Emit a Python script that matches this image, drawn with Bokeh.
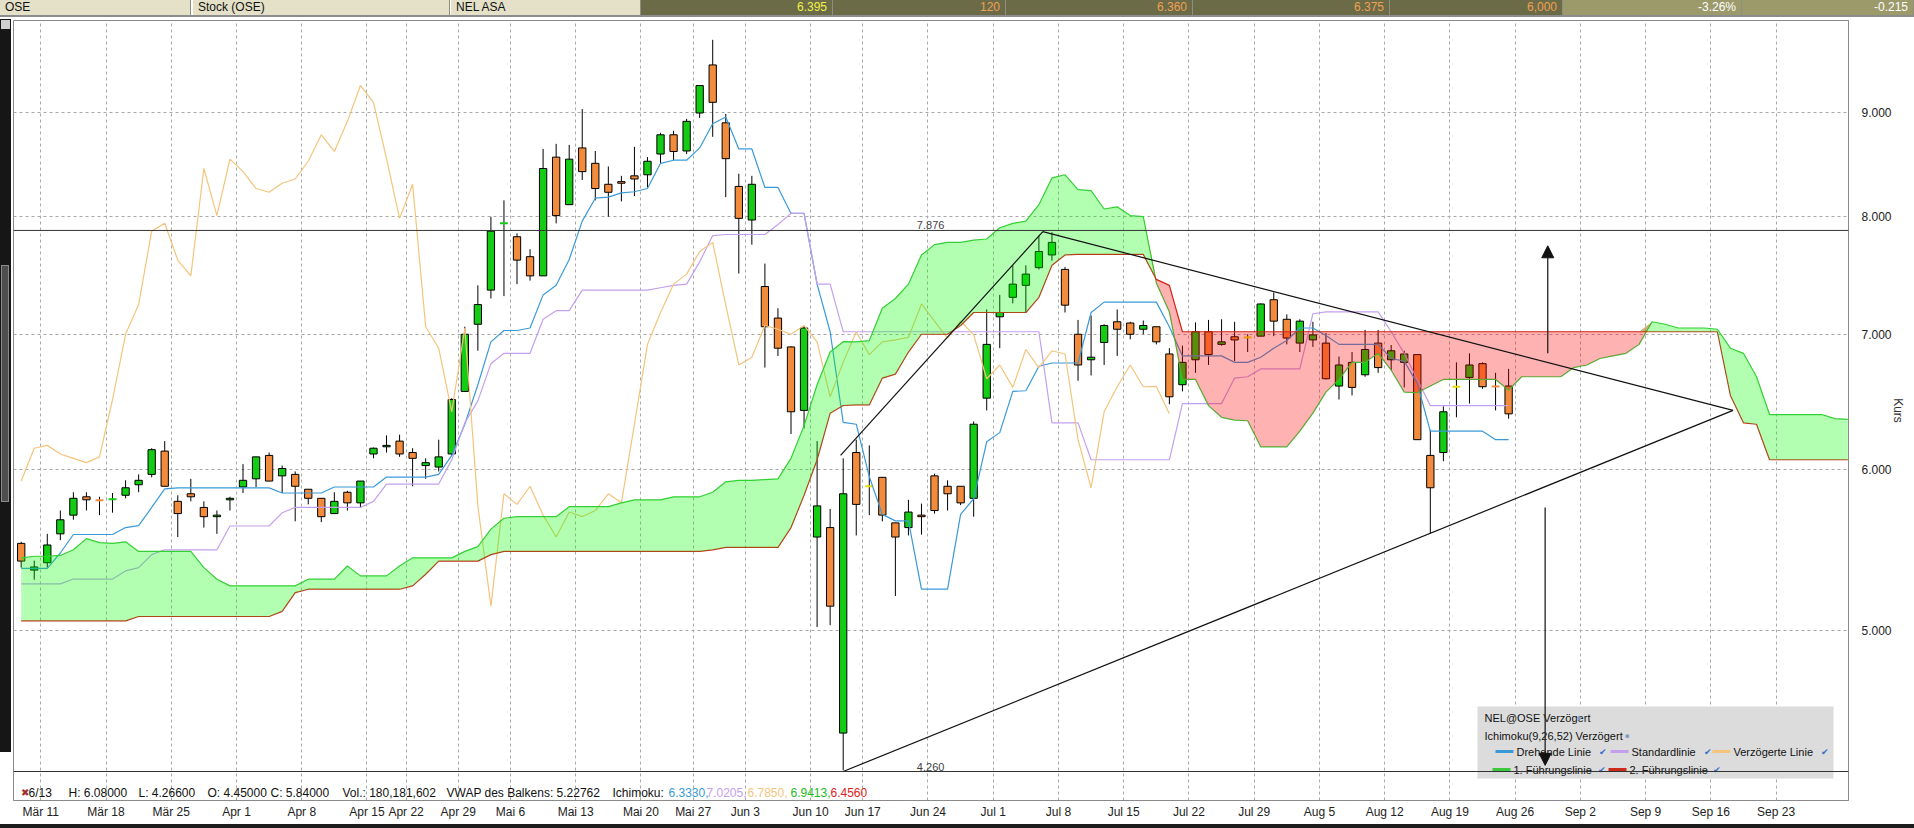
from bokeh.plotting import figure
from bokeh.layouts import column
from bokeh.models import (FixedTicker, Range1d, Label, Span, BoxAnnotation, Arrow,
                          NormalHead, Div, NumeralTickFormatter)
from bokeh.embed import file_html
from bokeh.resources import INLINE

# ---------------- data ----------------
opens = [5.52, 5.355, 5.40, 5.58, 5.70, 5.82, 5.80, 5.80, 5.83, 5.90,
         5.97, 6.13, 5.79, 5.84, 5.75, 5.69, 5.80, 5.885, 5.94, 6.10,
         5.96, 5.97, 5.87, 5.81, 5.71, 5.85, 5.78, 6.11, 6.16, 6.20,
         6.12, 6.03, 6.02, 6.11, 6.56, 7.08, 7.36, 7.935, 7.82, 7.645,
         7.48, 8.56, 8.11, 8.65, 8.50, 8.30, 8.325, 8.38, 8.39, 8.59,
         8.78, 8.62, 9.00, 9.505, 8.90, 8.28, 7.97, 7.39, 7.13, 6.90,
         6.42, 5.56, 5.62, 4.45, 6.12, 5.89, 5.95, 5.65, 5.62, 5.70,
         5.96, 5.89, 5.89, 5.81, 6.51, 7.14, 7.30, 7.40, 7.55, 7.66,
         7.535, 7.00, 6.80, 6.935, 7.10, 7.09, 7.04, 7.06, 6.845, 6.61,
         6.80, 7.02, 6.92, 6.98, 6.975, 6.985, 7.28, 7.12, 6.93, 6.955,
         6.93, 6.60, 6.78, 6.685, 6.93, 6.80, 6.78, 6.84, 6.10, 6.12,
         6.595, 6.665, 6.77, 6.60, 6.60]
highs = [5.53, 5.413, 5.58, 5.73, 5.85, 5.85, 5.82, 5.845, 5.93, 5.97,
         6.15, 6.20, 5.83, 5.94, 5.79, 5.73, 5.82, 6.04, 6.09, 6.12,
         6.03, 5.99, 5.87, 5.81, 5.85, 5.86, 5.925, 6.155, 6.24, 6.245,
         6.15, 6.08, 6.21, 6.51, 7.06, 7.40, 8.00, 8.15, 7.85, 7.71,
         8.64, 8.69, 8.68, 9.04, 8.62, 8.47, 8.38, 8.66, 8.56, 8.80,
         8.82, 8.94, 9.285, 9.78, 8.99, 8.40, 8.38, 7.585, 7.21, 6.905,
         7.065, 6.20, 5.74, 6.08, 6.21, 6.17, 5.95, 5.65, 5.80, 5.775,
         5.975, 5.93, 5.89, 6.34, 7.20, 7.32, 7.57, 7.57, 7.83, 7.86,
         7.555, 7.115, 7.15, 7.08, 7.20, 7.10, 7.11, 7.06, 6.89, 6.91,
         7.095, 7.115, 7.12, 7.10, 7.00, 7.25, 7.34, 7.16, 7.12, 7.10,
         7.01, 6.825, 6.86, 7.035, 7.035, 6.915, 6.87, 6.84, 6.28, 6.45,
         6.78, 6.85, 6.78, 6.70, 6.73]
lows = [5.37, 5.297, 5.37, 5.54, 5.67, 5.73, 5.70, 5.716, 5.81, 5.85,
        5.95, 5.89, 5.56, 5.79, 5.62, 5.58, 5.73, 5.845, 5.885, 5.925,
        5.845, 5.66, 5.77, 5.655, 5.71, 5.73, 5.75, 6.08, 6.12, 6.09,
        5.89, 5.94, 5.99, 6.10, 6.56, 6.87, 7.29, 7.31, 7.41, 7.44,
        7.48, 7.94, 8.11, 8.34, 8.15, 8.00, 8.14, 8.19, 8.27, 8.50,
        8.53, 8.59, 8.95, 8.76, 8.18, 7.50, 7.75, 6.74, 6.83, 6.25,
        6.29, 5.02, 5.03, 4.266, 5.57, 5.70, 5.66, 5.20, 5.57, 5.575,
        5.71, 5.73, 5.765, 5.69, 6.42, 6.89, 7.25, 7.175, 7.535, 7.61,
        7.175, 6.64, 6.68, 6.76, 6.83, 6.96, 7.00, 6.92, 6.465, 6.56,
        6.70, 6.76, 6.91, 6.79, 6.86, 6.985, 6.985, 6.92, 6.86, 6.90,
        6.65, 6.50, 6.53, 6.67, 6.70, 6.72, 6.59, 6.21, 5.58, 6.06,
        6.37, 6.47, 6.58, 6.42, 6.36]
closes = [5.41, 5.374, 5.51, 5.67, 5.81, 5.80, 5.797, 5.803, 5.88, 5.93,
          6.14, 5.89, 5.71, 5.82, 5.69, 5.70, 5.81, 5.93, 6.09, 5.925,
          6.01, 5.89, 5.81, 5.69, 5.79, 5.78, 5.925, 6.15, 6.17, 6.11,
          6.08, 6.05, 6.09, 6.50, 7.00, 7.24, 7.87, 7.94, 7.615, 7.48,
          8.45, 8.01, 8.54, 8.42, 8.26, 8.225, 8.31, 8.35, 8.52, 8.78,
          8.615, 8.915, 9.285, 9.11, 8.545, 7.985, 8.30, 7.06, 6.89, 6.41,
          7.05, 5.76, 5.14, 5.84, 5.77, 5.89, 5.70, 5.56, 5.72, 5.69,
          5.73, 5.84, 5.78, 6.32, 6.92, 7.175, 7.41, 7.495, 7.69, 7.77,
          7.235, 6.76, 6.82, 7.07, 7.04, 7.00, 7.07, 6.94, 6.52, 6.78,
          7.02, 6.84, 6.94, 6.955, 6.975, 7.245, 7.105, 6.97, 7.105, 6.995,
          6.655, 6.76, 6.59, 6.88, 6.74, 6.87, 6.845, 6.21, 5.88, 6.41,
          6.595, 6.76, 6.595, 6.597, 6.395]

tenkan = [5.365, 5.365, 5.365, 5.46, 5.576, 5.576, 5.576, 5.576, 5.62, 5.632,
          5.75, 5.872, 5.879, 5.879, 5.879, 5.879, 5.879, 5.879, 5.879, 5.879,
          5.845, 5.845, 5.845, 5.845, 5.885, 5.885, 5.885, 5.885, 5.952, 5.952,
          5.952, 5.952, 5.97, 6.10, 6.32, 6.61, 6.94, 7.03, 7.03, 7.05,
          7.32, 7.40, 7.62, 7.96, 8.17, 8.18, 8.22, 8.23, 8.26, 8.50,
          8.53, 8.53, 8.65, 8.89, 8.96, 8.64, 8.64, 8.27, 8.27, 8.03,
          8.03, 7.41, 7.02, 6.333, 6.32, 5.955, 5.705, 5.663, 5.663, 5.24,
          5.24, 5.24, 5.705, 5.807, 6.195, 6.26, 6.56, 6.565, 6.75, 6.775,
          6.775, 6.775, 7.175, 7.26, 7.26, 7.26, 7.26, 7.26, 7.06, 6.83,
          6.83, 6.83, 6.83, 6.78, 6.78, 6.82, 6.89, 6.95, 7.05, 7.05,
          6.99, 6.92, 6.92, 6.92, 6.92, 6.81, 6.79, 6.62, 6.27, 6.27,
          6.27, 6.27, 6.27, 6.21, 6.21]
kijun = [5.272, 5.272, 5.272, 5.272, 5.301, 5.301, 5.301, 5.301, 5.35, 5.37,
         5.45, 5.48, 5.48, 5.48, 5.48, 5.48, 5.63, 5.63, 5.63, 5.63,
         5.715, 5.75, 5.75, 5.75, 5.75, 5.75, 5.75, 5.79, 5.905, 5.905,
         5.905, 5.905, 5.905, 6.07, 6.33, 6.49, 6.77, 6.85, 6.85, 6.85,
         7.12, 7.19, 7.19, 7.36, 7.36, 7.36, 7.36, 7.36, 7.36, 7.38,
         7.40, 7.41, 7.60, 7.83, 7.84, 7.84, 7.84, 7.84, 7.93, 8.03,
         8.03, 7.41, 7.41, 7.0205, 7.02, 7.02, 7.02, 7.02, 7.02, 7.02,
         7.02, 7.02, 7.02, 7.02, 7.02, 7.02, 7.02, 7.02, 7.02, 6.33,
         6.33, 6.33, 6.07, 6.07, 6.07, 6.07, 6.07, 6.07, 6.07, 6.47,
         6.47, 6.47, 6.47, 6.66, 6.67, 6.73, 6.73, 6.73, 6.73, 7.165,
         7.18, 7.18, 7.18, 7.18, 7.18, 7.02, 6.85, 6.65, 6.455, 6.455,
         6.455, 6.455, 6.455, 6.455, 6.455]
senkou_a = [5.43, 5.44, 5.44, 5.445, 5.48, 5.55, 5.525, 5.52, 5.53, 5.47,
            5.47, 5.47, 5.47, 5.47, 5.37, 5.30, 5.26, 5.26, 5.26, 5.26,
            5.26, 5.26, 5.30, 5.30, 5.30, 5.38, 5.32, 5.32, 5.32, 5.38,
            5.43, 5.43, 5.43, 5.43, 5.47, 5.50, 5.61, 5.68, 5.69, 5.69,
            5.69, 5.69, 5.755, 5.755, 5.755, 5.755, 5.78, 5.80, 5.80, 5.80,
            5.82, 5.82, 5.82, 5.85, 5.92, 5.93, 5.93, 5.935, 5.94, 6.08,
            6.31, 6.61, 6.86, 6.9413, 6.94, 6.95, 7.21, 7.29, 7.41, 7.66,
            7.75, 7.77, 7.77, 7.79, 7.80, 7.90, 7.94, 7.96, 8.11, 8.36,
            8.39, 8.25, 8.24, 8.07, 8.09, 8.01, 8.00, 7.42, 7.18, 6.65,
            6.65, 6.455, 6.37, 6.35, 6.345, 6.16, 6.16, 6.16, 6.27, 6.40,
            6.555, 6.65, 6.78, 6.78, 6.85, 6.72, 6.555, 6.55, 6.60, 6.65,
            6.65, 6.65, 6.65, 6.65, 6.57, 6.67, 6.67, 6.67, 6.67, 6.74,
            6.76, 6.81, 6.83, 6.85, 6.92, 7.10, 7.08, 7.05, 7.05, 7.05,
            7.04, 6.89, 6.85, 6.67, 6.39, 6.39, 6.39, 6.39, 6.39, 6.36,
            6.355]
senkou_b = [5.055, 5.055, 5.055, 5.055, 5.055, 5.055, 5.055, 5.055, 5.055, 5.08,
            5.08, 5.08, 5.08, 5.08, 5.08, 5.08, 5.08, 5.08, 5.08, 5.08,
            5.11, 5.22, 5.24, 5.24, 5.24, 5.24, 5.24, 5.24, 5.24, 5.24,
            5.26, 5.33, 5.41, 5.41, 5.41, 5.41, 5.45, 5.47, 5.47, 5.47,
            5.47, 5.47, 5.47, 5.47, 5.47, 5.47, 5.47, 5.47, 5.47, 5.47,
            5.47, 5.47, 5.47, 5.48, 5.495, 5.495, 5.495, 5.495, 5.495, 5.62,
            5.83, 6.07, 6.40, 6.456, 6.46, 6.46, 6.66, 6.69, 6.86, 7.00,
            7.00, 7.00, 7.07, 7.175, 7.175, 7.175, 7.175, 7.175, 7.30, 7.57,
            7.66, 7.665, 7.665, 7.665, 7.665, 7.665, 7.665, 7.45, 7.40, 7.02,
            7.02, 7.02, 7.02, 7.02, 7.02, 7.02, 7.02, 7.02, 7.02, 7.02,
            7.02, 7.02, 7.02, 7.02, 7.02, 7.02, 7.02, 7.02, 7.02, 7.02,
            7.02, 7.02, 7.02, 7.02, 7.02, 7.02, 7.02, 7.02, 7.02, 7.02,
            7.02, 7.02, 7.02, 7.02, 7.02, 7.02, 7.02, 7.02, 7.02, 7.02,
            7.02, 6.53, 6.33, 6.32, 6.07, 6.07, 6.07, 6.07, 6.07, 6.07,
            6.07]
chikou_shift = 26

week_pos = [1.5, 6.5, 11.5, 16.5, 21.5, 26.5, 29.5, 33.5, 37.5, 42.5, 47.5, 51.5,
            55.5, 60.5, 64.5, 69.5, 74.5, 79.5, 84.5, 89.5, 94.5, 99.5, 104.5,
            109.5, 114.5, 119.5, 124.5, 129.5, 134.5]
week_labels = ["Mär 11", "Mär 18", "Mär 25", "Apr 1", "Apr 8", "Apr 15", "Apr 22",
               "Apr 29", "Mai 6", "Mai 13", "Mai 20", "Mai 27", "Jun 3", "Jun 10",
               "Jun 17", "Jun 24", "Jul 1", "Jul 8", "Jul 15", "Jul 22", "Jul 29",
               "Aug 5", "Aug 12", "Aug 19", "Aug 26", "Sep 2", "Sep 9", "Sep 16",
               "Sep 23"]
price_ticks = [5, 6, 7, 8, 9]

# trend lines (triangle) and levels
trend_x0 = [62.8, 78.3, 63.0]
trend_y0 = [6.10, 7.865, 4.26]
trend_x1 = [78.3, 131.2, 131.2]
trend_y1 = [7.865, 6.42, 6.42]
levels = [7.876, 4.260]
level_label_x = 69.7
arrow_x = [117.0, 116.8]
arrow_from = [6.85, 5.75]
arrow_to = [7.74, 4.29]

# header bar / info bar texts
header_texts = ["OSE", "Stock (OSE)", "NEL ASA", "6.395", "120", "6.360", "6.375",
                "6,000", "-3.26%", "-0.215"]
bar_date = "6/13"
bar_fields = ["H: 6.08000", "L: 4.26600", "O: 4.45000", "C: 5.84000",
              "Vol.: 180,181,602", "VWAP des Balkens: 5.22762"]
ichimoku_values = ["6.3330", "7.0205", "6.7850", "6.9413", "6.4560"]

# ---------------- styling ----------------
C_UP = "#14cc14"
C_DN = "#f28b3c"
C_EQ = "#e6e000"
C_TENKAN = "#3a9ad9"
C_KIJUN = "#c3a0ee"
C_CHIKOU = "#f4c47c"
C_SPANA = "#3cc83c"
C_SPANB = "#cc2a1a"
FONT = "Liberation Sans"
HEADER_H = 19

n = len(opens)
idx = list(range(n))

p = figure(frame_width=1835, frame_height=780, min_border_left=13, min_border_right=60,
           min_border_top=1, min_border_bottom=26, y_axis_type="log",
           y_axis_location="right", x_range=Range1d(-0.59, 140.05),
           y_range=Range1d(4.122, 9.997), toolbar_location=None, output_backend="svg",
           background_fill_color="white", border_fill_color="white")
p.outline_line_color = "#8a8a8a"

# axes
p.xaxis.ticker = FixedTicker(ticks=week_pos, minor_ticks=[])
p.xaxis.major_label_overrides = {pos: lab for pos, lab in zip(week_pos, week_labels)}
p.yaxis.ticker = FixedTicker(ticks=price_ticks, minor_ticks=[])
p.yaxis.formatter = NumeralTickFormatter(format="0.000")
for ax in (p.xaxis[0], p.yaxis[0]):
    ax.major_tick_line_color = None
    ax.minor_tick_line_color = None
    ax.axis_line_color = "#8a8a8a"
    ax.major_label_text_font = FONT
    ax.major_label_text_font_size = "12px"
    ax.major_label_text_color = "#222222"
p.xaxis.major_label_standoff = -2
p.yaxis.major_label_standoff = 7
p.yaxis.axis_label = "Kurs"
p.yaxis.axis_label_text_font = FONT
p.yaxis.axis_label_text_font_size = "12px"
p.yaxis.axis_label_text_font_style = "normal"
p.yaxis.axis_label_text_color = "#333333"
p.yaxis.axis_label_standoff = -4
for g in (p.xgrid[0], p.ygrid[0]):
    g.grid_line_color = "#a8a8a8"
    g.grid_line_dash = "3 3"
    g.grid_line_width = 1

# candles
up = dict(x=[], top=[], bottom=[])
dn = dict(x=[], top=[], bottom=[])
dash_x0, dash_x1, dash_y, dash_c = [], [], [], []
for i, (o, c) in enumerate(zip(opens, closes)):
    if abs(c - o) / o < 0.001:
        dash_x0.append(i - 0.3)
        dash_x1.append(i + 0.3)
        dash_y.append(c)
        dash_c.append(C_EQ if c == o else (C_UP if c > o else C_DN))
    elif c > o:
        up["x"].append(i); up["top"].append(c); up["bottom"].append(o)
    else:
        dn["x"].append(i); dn["top"].append(o); dn["bottom"].append(c)

p.segment(x0=idx, y0=lows, x1=idx, y1=highs, line_color="black", line_width=1)
p.vbar(x=up["x"], top=up["top"], bottom=up["bottom"], width=0.56,
       fill_color=C_UP, line_color="black", line_width=1)
p.vbar(x=dn["x"], top=dn["top"], bottom=dn["bottom"], width=0.56,
       fill_color=C_DN, line_color="black", line_width=1)
p.segment(x0=dash_x0, y0=dash_y, x1=dash_x1, y1=dash_y, line_color=dash_c, line_width=2)

# ichimoku lines
p.line(idx, tenkan, line_color=C_TENKAN, line_width=1.2)
p.line(idx, kijun, line_color=C_KIJUN, line_width=1.2)
p.line(idx[:n - chikou_shift], closes[chikou_shift:], line_color=C_CHIKOU, line_width=1.2)
cx = list(range(len(senkou_a)))
p.line(cx, senkou_a, line_color=C_SPANA, line_width=1.2)
p.line(cx, senkou_b, line_color=C_SPANB, line_width=1.2)

# cloud (drawn over everything, translucent)
upper = [max(a, b) for a, b in zip(senkou_a, senkou_b)]
p.varea(x=cx, y1=senkou_b, y2=upper, fill_color="#00ff00", fill_alpha=0.3)
p.varea(x=cx, y1=senkou_a, y2=upper, fill_color="#ff0000", fill_alpha=0.3)

# triangle
p.segment(x0=trend_x0, y0=trend_y0, x1=trend_x1, y1=trend_y1, line_color="#111111",
          line_width=1.2)

# legend box (positions in page pixels, converted to frame screen units)
FL, FB = 13, 800  # frame left / bottom in page pixels


def sx(px):
    return px - FL


def sy(py):
    return FB - py


p.add_layout(BoxAnnotation(left=sx(1477), right=sx(1833), bottom=sy(778), top=sy(706),
                           left_units="screen", right_units="screen", top_units="screen",
                           bottom_units="screen", fill_color="#dcdcdc", fill_alpha=1,
                           line_color=None))


def lab(text, px, py, color="#111111", size="11px", align="left"):
    p.add_layout(Label(x=sx(px), y=sy(py), x_units="screen", y_units="screen", text=text,
                       text_font=FONT, text_font_size=size, text_color=color,
                       text_align=align, text_baseline="middle"))


lab("NEL@OSE Verzögert", 1484, 717)
lab("●", 1576, 717, color="#7f9cc4", size="9px")
lab("Ichimoku(9,26,52) Verzögert", 1484, 735)
lab("●", 1624, 735, color="#7f9cc4", size="9px")
legend_items = [("Drehende Linie", C_TENKAN, 1495, 751, 1598),
                ("Standardlinie", C_KIJUN, 1610, 751, 1703),
                ("Verzögerte Linie", C_CHIKOU, 1712, 751, 1820),
                ("1. Führungslinie", C_SPANA, 1492, 769, 1597),
                ("2. Führungslinie", C_SPANB, 1608, 769, 1712)]
for name, col, lx, ly, ckx in legend_items:
    p.add_layout(BoxAnnotation(left=sx(lx), right=sx(lx + 18), bottom=sy(ly + 1.5),
                               top=sy(ly - 1.5), left_units="screen", right_units="screen",
                               top_units="screen", bottom_units="screen", fill_color=col,
                               fill_alpha=1, line_color=None))
    lab(name, lx + 21, ly)
    lab("✔", ckx, ly, color="#3a6fcc", size="9px")

# levels
for lv in levels:
    p.add_layout(Span(location=lv, dimension="width", line_color="#333333", line_width=1))
    p.add_layout(Label(x=level_label_x, y=lv, text=f"{lv:.3f}", text_font=FONT,
                       text_font_size="11px", text_color="#444444", text_align="center",
                       text_baseline="bottom", y_offset=1))

# arrows
for ax_, y0, y1 in zip(arrow_x, arrow_from, arrow_to):
    p.add_layout(Arrow(end=NormalHead(size=12, fill_color="#111111", line_color="#111111"),
                       x_start=ax_, y_start=y0, x_end=ax_, y_end=y1,
                       line_color="#222222", line_width=1.3))

# info bar inside the plot
lab("✖", 20, 792, color="#a03030", size="10px")
lab(bar_date, 28, 792, size="12px")
for txt, px in zip(bar_fields, [68, 138, 207, 270, 342, 446]):
    lab(txt, px, 792, size="12px")
lab("Ichimoku:", 612, 792, size="12px")
ich_colors = [C_TENKAN, C_KIJUN, C_CHIKOU, "#22bb22", "#dd2222"]
ich_x = [668, 706, 747, 790, 830]
for k, (v, col, px) in enumerate(zip(ichimoku_values, ich_colors, ich_x)):
    lab(v + ("," if k < 4 else ""), px, 792, color=col, size="12px")

# ---------------- header bar (page top) ----------------
cell_x = [(0, 191), (193, 450), (451, 641), (641, 833), (833, 1006), (1006, 1193),
          (1193, 1390), (1390, 1563), (1563, 1742), (1742, 1914)]
BEIGE, DARK, OLIVE = "#e4e1c8", "#6b6b48", "#9c9a6a"
cell_bg = [BEIGE, BEIGE, BEIGE, DARK, DARK, DARK, DARK, DARK, OLIVE, OLIVE]
cell_fg = ["#111111", "#111111", "#111111", "#f2f04a", "#f0a050", "#f0a050", "#f0a050",
           "#f0a050", "#ffffff", "#ffffff"]
cell_al = ["left", "left", "left"] + ["right"] * 7
cells = ""
for (x0, x1), t, bg, fg, al in zip(cell_x, header_texts, cell_bg, cell_fg, cell_al):
    cells += (f'<div style="position:absolute;left:{x0}px;top:0;width:{x1 - x0}px;height:15px;'
              f'background:{bg};color:{fg};text-align:{al};line-height:15px;padding:0 5px;'
              f'box-sizing:border-box;border-right:1px solid #8f8f80;white-space:nowrap;'
              f'overflow:hidden;">{t}</div>')
strip = ('<div style="position:absolute;left:0;top:19px;width:11px;height:733px;'
         'background:#161616;z-index:10;"></div>'
         '<div style="position:absolute;left:1px;top:20px;width:9px;height:9px;'
         'background:#cfcfcf;z-index:11;"></div>'
         '<div style="position:absolute;left:1px;top:265px;width:8px;height:237px;'
         'background:#4e4e4e;border:1px solid #8a8a8a;z-index:11;"></div>'
         '<div style="position:absolute;left:0;top:824px;width:1914px;height:4px;'
         'background:#1c1c1c;z-index:11;"></div>')
header_html = (f'<div style="position:relative;left:0;top:0;width:1914px;height:{HEADER_H}px;'
               f'font-family:\'{FONT}\',Arial,sans-serif;font-size:12px;">' + cells +
               '<div style="position:absolute;left:0;top:15px;width:1914px;height:2px;'
               'background:#8c8c8c;"></div>' + strip + '</div>')
header = Div(text=header_html, width=1914, height=HEADER_H, margin=0)

layout = column(header, p, spacing=0)
open("out.html", "w").write(file_html(layout, INLINE))
